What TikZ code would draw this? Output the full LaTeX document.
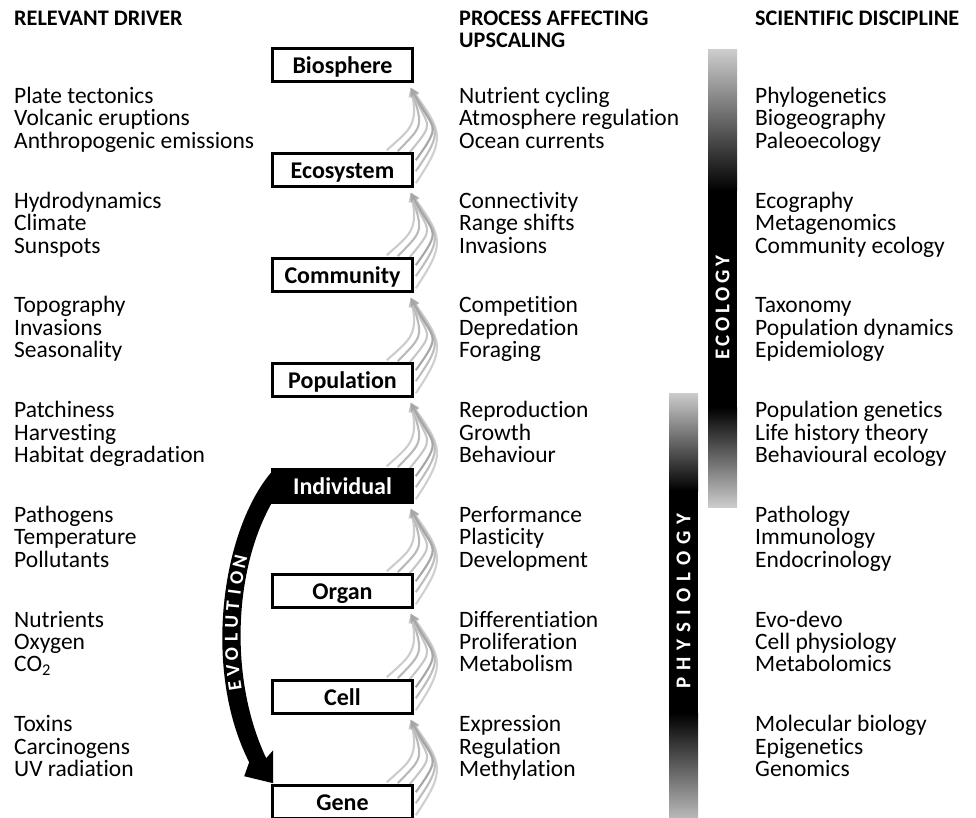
\documentclass[tikz,border=0pt]{standalone}
\usepackage{fontspec}
\setmainfont{Carlito}[Ligatures=NoCommon]
\usetikzlibrary{calc,arrows.meta,backgrounds}
\newcommand{\trio}[6]{%
  \node[txt] (#1a) at (#2,{103.5+104.7*(#3-1)}) {#4};
  \node[txt] (#1b) at (#2,{125.9+104.7*(#3-1)}) {#5};
  \node[txt] (#1c) at (#2,{148.3+104.7*(#3-1)}) {#6};}
\newcommand{\mybundle}[2]{%
  \coordinate (#2tip) at ($(#2.south east)+(-3,5)$);
  \draw[upc,gray!38] ($(#1.north east)+(2,31)$) .. controls +(30,-45) and +(32,45) .. (#2tip);
  \draw[upc,gray!52] ($(#1.north east)+(2,19)$) .. controls +(29,-42) and +(27,45) .. (#2tip);
  \draw[upc,gray!40] ($(#1.north east)+(-27,-2)$) .. controls +(22,-20) and +(8,38) .. (#2tip);
  \draw[upc,gray!55] ($(#1.north east)+(-16,-1)$) .. controls +(24,-25) and +(13,40) .. (#2tip);
  \draw[upc,gray!45] ($(#1.north east)+(-4,0)$) .. controls +(26,-32) and +(18,42) .. (#2tip);
  \draw[upc,gray!70] ($(#1.north east)+(2,8)$) .. controls +(27,-38) and +(23,44) .. (#2tip);}
\begin{document}
\begin{tikzpicture}[x=1pt,y=-1pt,
  box/.style={draw=black,line width=2.6pt,fill=white,minimum width=140pt,minimum height=33pt,inner sep=0pt,
    font=\fontsize{24}{26}\selectfont\bfseries,text height=16.8pt,text depth=0pt},
  txt/.style={anchor=base west,inner sep=0pt,font=\fontsize{23.5}{25}\selectfont},
  hdr/.style={anchor=base west,inner sep=0pt,font=\fontsize{22.2}{24}\selectfont\bfseries},
  upc/.style={line width=2.1pt,-{Stealth[length=9pt,width=8.5pt]}},
  bartxt/.style={rotate=90,text=white,inner sep=0pt,font=\fontsize{21}{22}\selectfont\bfseries},
  evo/.style={sloped,allow upside down,text=white,inner sep=0pt,font=\fontsize{19.5}{21}\selectfont\bfseries},
]
\useasboundingbox (0,0) rectangle (976,818);

% headers
\node[hdr] (h1) at (14,26) {RELEVANT DRIVER};
\node[hdr] (h2a) at (459,26) {PROCESS AFFECTING};
\node[hdr] (h2b) at (459,48) {UPSCALING};
\node[hdr] (h3) at (755,26) {SCIENTIFIC DISCIPLINE};

% gradient bars
\shade[top color=gray!40,bottom color=black] (708,50) rectangle (737,191);
\fill[black] (708,190) rectangle (737,408);
\shade[top color=black,bottom color=gray!40] (708,407) rectangle (737,507);
\node[bartxt] (ecol) at (722.5,308) {E\hspace{3.5pt}C\hspace{3.5pt}O\hspace{3.5pt}L\hspace{3.5pt}O\hspace{3.5pt}G\hspace{3.5pt}Y};

\shade[top color=gray!40,bottom color=black] (669,393) rectangle (698,491);
\fill[black] (669,490) rectangle (698,714);
\shade[top color=black,bottom color=gray!55] (669,713) rectangle (698,818);
\node[bartxt] (phys) at (683.5,601) {P\hspace{7pt}H\hspace{7pt}Y\hspace{7pt}S\hspace{7pt}I\hspace{7pt}O\hspace{7pt}L\hspace{7pt}O\hspace{7pt}G\hspace{7pt}Y};

% level boxes
\node[box] (bio) at (342.5,65) {Biosphere};
\node[box] (eco) at (342.5,170) {Ecosystem};
\node[box] (com) at (342.5,275) {Community};
\node[box] (pop) at (342.5,380) {Population};
\node[box,fill=black,text=white] (ind) at (342.5,486) {Individual};
\node[box] (org) at (342.5,591) {Organ};
\node[box] (cel) at (342.5,697) {Cell};
\node[box] (gen) at (342.5,802) {Gene};

\begin{scope}[on background layer]
  \mybundle{eco}{bio}
  \mybundle{com}{eco}
  \mybundle{pop}{com}
  \mybundle{ind}{pop}
  \mybundle{org}{ind}
  \mybundle{cel}{org}
  \mybundle{gen}{cel}
  % evolution arrow
  \coordinate (o0) at ($(ind.north west)+(1,3)$);
  \coordinate (o1) at ($(ind.north west)+(-50,62)$);
  \coordinate (o2) at ($(gen.north west)+(-69,-114)$);
  \coordinate (o3) at ($(gen.north west)+(-22,-22)$);
  \coordinate (b1) at ($(gen.north west)+(-27,-8)$);
  \coordinate (tp) at ($(gen.north west)+(2,-1)$);
  \coordinate (b2) at ($(gen.north west)+(2,-34)$);
  \coordinate (i3) at ($(gen.north west)+(-5,-26)$);
  \coordinate (i2) at ($(gen.north west)+(-42,-104)$);
  \coordinate (i1) at ($(ind.north west)+(-38,102)$);
  \coordinate (i0) at ($(ind.north west)+(1,34)$);
  \fill[black] (o0) .. controls (o1) and (o2) .. (o3) -- (b1) -- (tp) -- (b2) -- (i3)
     .. controls (i2) and (i1) .. (i0) -- cycle;
\end{scope}

\path (257.5,760) .. controls (215.5,675) and (227,550) .. (272,488)
  node[evo,pos=0.265] (ev1) {E}
  node[evo,pos=0.318] (ev2) {V}
  node[evo,pos=0.372] (ev3) {O}
  node[evo,pos=0.425] (ev4) {L}
  node[evo,pos=0.478] (ev5) {U}
  node[evo,pos=0.530] (ev6) {T}
  node[evo,pos=0.578] (ev7) {I}
  node[evo,pos=0.628] (ev8) {O}
  node[evo,pos=0.685] (ev9) {N};

% left column
\trio{L1}{14}{1}{Plate tectonics}{Volcanic eruptions}{Anthropogenic emissions}
\trio{L2}{14}{2}{Hydrodynamics}{Climate}{Sunspots}
\trio{L3}{14}{3}{Topography}{Invasions}{Seasonality}
\trio{L4}{14}{4}{Patchiness}{Harvesting}{Habitat degradation}
\trio{L5}{14}{5}{Pathogens}{Temperature}{Pollutants}
\trio{L6}{14}{6}{Nutrients}{Oxygen}{CO\textsubscript{2}}
\trio{L7}{14}{7}{Toxins}{Carcinogens}{UV radiation}
% middle column
\trio{M1}{459}{1}{Nutrient cycling}{Atmosphere regulation}{Ocean currents}
\trio{M2}{459}{2}{Connectivity}{Range shifts}{Invasions}
\trio{M3}{459}{3}{Competition}{Depredation}{Foraging}
\trio{M4}{459}{4}{Reproduction}{Growth}{Behaviour}
\trio{M5}{459}{5}{Performance}{Plasticity}{Development}
\trio{M6}{459}{6}{Differentiation}{Proliferation}{Metabolism}
\trio{M7}{459}{7}{Expression}{Regulation}{Methylation}
% right column
\trio{R1}{755}{1}{Phylogenetics}{Biogeography}{Paleoecology}
\trio{R2}{755}{2}{Ecography}{Metagenomics}{Community ecology}
\trio{R3}{755}{3}{Taxonomy}{Population dynamics}{Epidemiology}
\trio{R4}{755}{4}{Population genetics}{Life history theory}{Behavioural ecology}
\trio{R5}{755}{5}{Pathology}{Immunology}{Endocrinology}
\trio{R6}{755}{6}{Evo-devo}{Cell physiology}{Metabolomics}
\trio{R7}{755}{7}{Molecular biology}{Epigenetics}{Genomics}
\end{tikzpicture}
\end{document}
